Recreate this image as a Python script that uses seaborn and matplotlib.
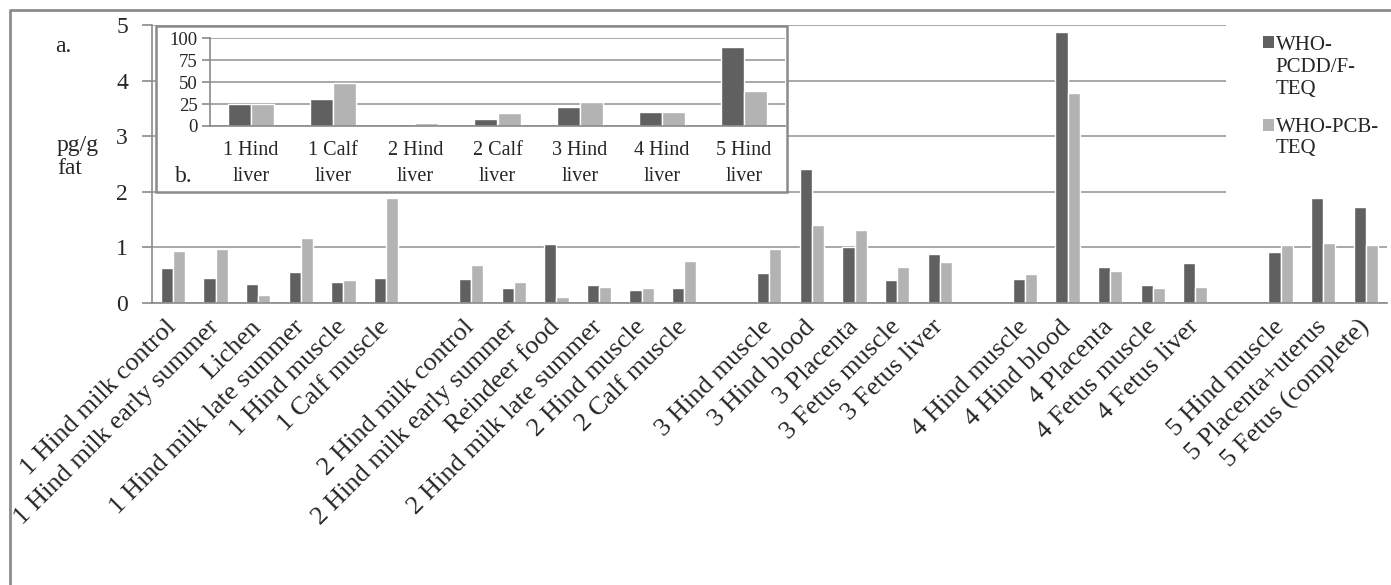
import numpy as np
import pandas as pd
import matplotlib.pyplot as plt
from matplotlib.patches import Rectangle
from matplotlib.lines import Line2D
from matplotlib.legend_handler import HandlerPatch
import seaborn as sns

series = ['WHO-PCDD/F-TEQ', 'WHO-PCB-TEQ']
series_labels = ['WHO-\nPCDD/F-\nTEQ', 'WHO-PCB-\nTEQ']
colors = ['#606060', '#b3b3b3']

# main chart (a.), blanks separate the animals
samples = ['1 Hind milk control', '1 Hind milk early summer', 'Lichen',
           '1 Hind milk late summer', '1 Hind muscle', '1 Calf muscle', ' ',
           '2 Hind milk control', '2 Hind milk early summer', 'Reindeer food',
           '2 Hind milk late summer', '2 Hind muscle', '2 Calf muscle', '  ',
           '3 Hind muscle', '3 Hind blood', '3 Placenta', '3 Fetus muscle',
           '3 Fetus liver', '   ',
           '4 Hind muscle', '4 Hind blood', '4 Placenta', '4 Fetus muscle',
           '4 Fetus liver', '    ',
           '5 Hind muscle', '5 Placenta+uterus', '5 Fetus (complete)']
pcdd = [0.63, 0.45, 0.33, 0.55, 0.38, 0.45, None,
        0.42, 0.26, 1.05, 0.31, 0.22, 0.26, None,
        0.54, 2.40, 1.00, 0.40, 0.87, None,
        0.43, 4.87, 0.64, 0.31, 0.71, None,
        0.92, 1.89, 1.72]
pcb = [0.93, 0.96, 0.13, 1.17, 0.40, 1.89, None,
       0.68, 0.38, 0.10, 0.29, 0.26, 0.75, None,
       0.96, 1.40, 1.31, 0.64, 0.73, None,
       0.52, 3.78, 0.57, 0.26, 0.29, None,
       1.03, 1.07, 1.03]

# inset (b.), liver samples
livers = ['1 Hind\nliver', '1 Calf\nliver', '2 Hind\nliver', '2 Calf\nliver',
          '3 Hind\nliver', '4 Hind\nliver', '5 Hind\nliver']
liver_pcdd = [25, 31, 2, 8, 22, 16, 90]
liver_pcb = [25, 49, 3, 15, 27, 16, 40]

df = pd.DataFrame({'sample': samples * 2,
                   'series': [series[0]] * len(samples) + [series[1]] * len(samples),
                   'value': pcdd + pcb})
df_liver = pd.DataFrame({'sample': livers * 2,
                         'series': [series[0]] * len(livers) + [series[1]] * len(livers),
                         'value': liver_pcdd + liver_pcb})

sns.set_style('white')
plt.rcParams['font.family'] = ['Liberation Serif', 'DejaVu Serif']
grid_c = '#9a9a9a'
axis_c = '#8a8a8a'

W, H = 1391, 585
fig = plt.figure(figsize=(W / 100, H / 100), dpi=100)

def fx(px):
    return px / W

def fy(py):
    return 1 - py / H

# main axes
ax = fig.add_axes([fx(151.7), fy(302.7), fx(1387) - fx(151.7), fy(25) - fy(302.7)])
sns.barplot(data=df, x='sample', y='value', hue='series', order=samples,
            hue_order=series, palette=colors, saturation=1, width=0.57,
            errorbar=None, legend=False, ax=ax)
ax.set_xlim(-0.5, len(samples) - 0.5)
ax.set_ylim(0, 5)
ax.set_yticks(range(6))
ax.set_axisbelow(True)
ax.yaxis.grid(True, color=grid_c, lw=1.2)
ax.xaxis.grid(False)
for s in ['top', 'right']:
    ax.spines[s].set_visible(False)
for s in ['left', 'bottom']:
    ax.spines[s].set_color(axis_c)
    ax.spines[s].set_linewidth(1.2)
ax.set_xlabel('')
ax.set_ylabel('')
ax.set_xticks(range(len(samples)))
ax.set_xticklabels(samples, rotation=45, ha='right', va='center',
                   rotation_mode='anchor', fontsize=19)
ax.set_xticks(np.arange(-0.5, len(samples)), minor=True)
ax.tick_params(axis='x', which='major', length=0, pad=15)
ax.tick_params(axis='x', which='minor', length=7, width=1.2, color=axis_c, direction='out')
ax.tick_params(axis='y', length=7, width=1.2, color=axis_c, direction='out',
               left=True, labelsize=17, pad=10)

# white area behind the legend
ax.add_patch(Rectangle((24.72, 1.96), 4.0, 3.3, facecolor='white',
                       edgecolor='none', zorder=0.8, clip_on=False))


class FirstLineHandler(HandlerPatch):
    """square marker level with the first line of a multi-line label"""
    def __init__(self, nlines):
        super().__init__()
        self.nlines = nlines

    def create_artists(self, legend, orig_handle, xdescent, ydescent,
                       width, height, fontsize, trans):
        shift = (self.nlines - 1) / 2 * 1.2 * fontsize
        p = Rectangle((-xdescent, -ydescent + shift), width, height,
                      facecolor=orig_handle.get_facecolor(), edgecolor='none',
                      transform=trans)
        return [p]


handles = [Rectangle((0, 0), 1, 1, facecolor=c, edgecolor='none') for c in colors]
fig.legend(handles, series_labels, loc='upper left',
           bbox_to_anchor=(fx(1255), fy(28)), frameon=False, fontsize=15,
           handlelength=0.5, handleheight=0.5, handletextpad=0.1,
           labelspacing=0.9, borderaxespad=0,
           handler_map={handles[0]: FirstLineHandler(3),
                        handles[1]: FirstLineHandler(2)})

fig.text(fx(55), fy(47), 'a.', fontsize=17, va='center')
fig.text(fx(57), fy(157), 'pg/g\nfat', fontsize=17, va='center', linespacing=1.1)

# inset box
fig.patches.append(Rectangle((fx(156), fy(192)), fx(787) - fx(156), fy(26) - fy(192),
                             transform=fig.transFigure, facecolor='white',
                             edgecolor=axis_c, lw=1.8, zorder=2))

axin = fig.add_axes([fx(210), fy(126), fx(785) - fx(210), fy(38.3) - fy(126)])
axin.set_zorder(3)
sns.barplot(data=df_liver, x='sample', y='value', hue='series', order=livers,
            hue_order=series, palette=colors, saturation=1, width=0.56,
            errorbar=None, legend=False, ax=axin)
axin.set_facecolor('none')
axin.set_xlim(-0.5, len(livers) - 0.5)
axin.set_ylim(0, 100)
axin.set_yticks([0, 25, 50, 75, 100])
axin.set_axisbelow(True)
axin.yaxis.grid(True, color=grid_c, lw=1.2)
for s in ['top', 'right']:
    axin.spines[s].set_visible(False)
for s in ['left', 'bottom']:
    axin.spines[s].set_color(axis_c)
    axin.spines[s].set_linewidth(1.2)
axin.set_xlabel('')
axin.set_ylabel('')
axin.set_xticks(range(len(livers)))
axin.set_xticklabels(livers, fontsize=14.5, linespacing=1.45)
axin.set_xticks(np.arange(-0.5, len(livers)), minor=True)
axin.tick_params(axis='x', which='major', length=0, pad=11)
axin.tick_params(axis='x', which='minor', length=7, width=1.2, color=axis_c, direction='out')
axin.tick_params(axis='y', length=6, width=1.2, color=axis_c, direction='out',
                 left=True, labelsize=13.5, pad=3)
fig.text(fx(175), fy(176), 'b.', fontsize=17, va='center', zorder=4)

# outer chart border (left and top visible)
fig.add_artist(Line2D([fx(10), fx(10), 1], [0, fy(10), fy(10)],
                      transform=fig.transFigure, color='#8c8c8c', lw=2))

fig.savefig('out.png', dpi=100)
